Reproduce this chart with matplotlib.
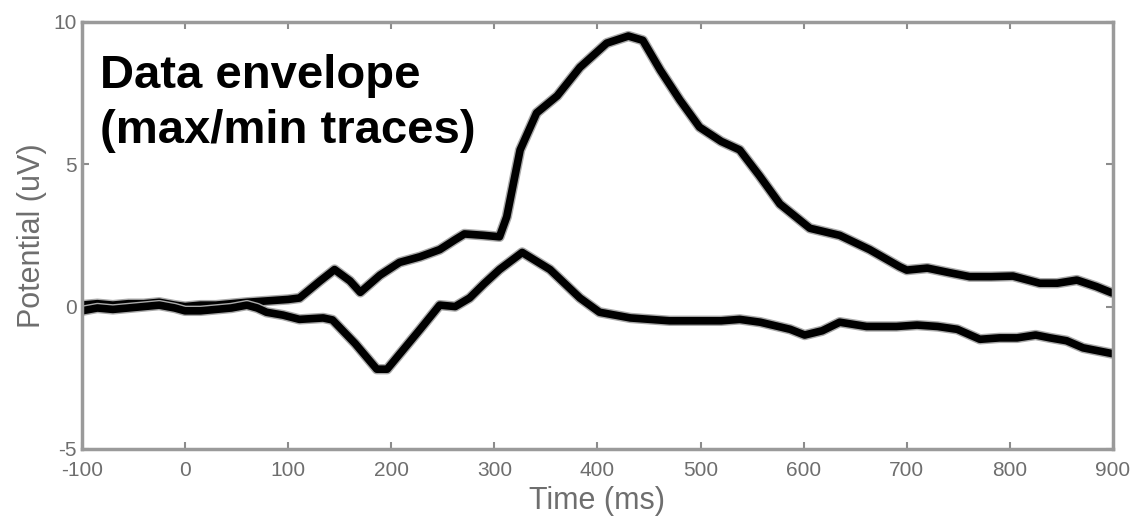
#!/usr/bin/env python3

import matplotlib
matplotlib.use("Agg")
import matplotlib.pyplot as plt
import numpy as np

# time (ms) and potential (uV)
t_max = [-100, -85, -70, -55, -40, -25, -10, 0, 15, 30, 45, 60, 80, 100, 111, 131, 145,
         160, 170, 189, 208, 228, 247, 262, 271, 290, 305, 312, 325, 341, 361, 383,
         409, 430, 444, 461, 480, 499, 520, 538, 557, 577, 606, 635, 664, 693, 700,
         720, 740, 761, 782, 803, 829, 846, 865, 884, 899]
v_max = [0.05, 0.1, 0.05, 0.1, 0.1, 0.15, 0.05, 0.0, 0.05, 0.05, 0.1, 0.15, 0.2, 0.25,
         0.3, 0.9, 1.3, 0.9, 0.5, 1.1, 1.55, 1.75, 2.0, 2.35, 2.55, 2.5, 2.45, 3.15,
         5.5, 6.8, 7.4, 8.4, 9.25, 9.5, 9.35, 8.3, 7.25, 6.3, 5.8, 5.5, 4.6, 3.6,
         2.75, 2.5, 2.0, 1.4, 1.28, 1.35, 1.2, 1.05, 1.05, 1.07, 0.82, 0.82, 0.93,
         0.7, 0.48]

t_min = [-100, -85, -70, -55, -40, -25, -10, 0, 15, 30, 45, 60, 70, 79, 95, 111, 134,
         143, 165, 186, 196, 212, 228, 247, 262, 276, 290, 305, 327, 354, 383, 402,
         432, 470, 499, 520, 538, 558, 587, 601, 618, 635, 661, 690, 710, 730, 749,
         771, 790, 807, 825, 839, 855, 871, 899]
v_min = [-0.15, -0.05, -0.1, -0.05, 0.0, 0.05, -0.05, -0.15, -0.15, -0.1, -0.05, 0.05,
         -0.05, -0.2, -0.3, -0.45, -0.4, -0.47, -1.3, -2.2, -2.2, -1.5, -0.8, 0.05,
         0.0, 0.3, 0.8, 1.3, 1.9, 1.3, 0.3, -0.2, -0.4, -0.5, -0.5, -0.5, -0.45,
         -0.55, -0.8, -1.0, -0.85, -0.55, -0.7, -0.7, -0.65, -0.7, -0.8, -1.15,
         -1.1, -1.1, -1.0, -1.1, -1.2, -1.45, -1.65]

x_ticks = list(range(-100, 901, 100))
y_ticks = [-5, 0, 5, 10]

plt.rcParams['font.family'] = ['Liberation Sans', 'DejaVu Sans']
plt.rcParams['axes.unicode_minus'] = False

gray = "#8c8c8c"
text_gray = "#6e6e6e"

fig = plt.figure(figsize=(11.38, 5.19), dpi=100)
ax = fig.add_axes([0.072, 0.135, 0.906, 0.823])

for t, v in [(t_max, v_max), (t_min, v_min)]:
    ax.plot(t, v, color="#aaaaaa", linewidth=7.5, solid_joinstyle="round",
            solid_capstyle="round")
    ax.plot(t, v, color="black", linewidth=5.5, solid_joinstyle="round",
            solid_capstyle="round")

ax.set_xlim(-100, 900)
ax.set_ylim(-5, 10)
ax.set_xticks(x_ticks)
ax.set_yticks(y_ticks)
ax.tick_params(direction="in", length=5, width=1.5, color=gray, labelcolor=text_gray,
               labelsize=15, top=True, right=True)
ax.tick_params(axis="x", pad=9)
ax.tick_params(axis="y", pad=4)
for s in ax.spines.values():
    s.set_color("#9a9a9a")
    s.set_linewidth(2.5)

ax.set_xlabel("Time (ms)", fontsize=22, color=text_gray, labelpad=4)
ax.set_ylabel("Potential (uV)", fontsize=22, color=text_gray, labelpad=4)

ax.text(0.0175, 0.845, "Data envelope", transform=ax.transAxes,
        fontsize=34, fontweight="bold", va="baseline")
ax.text(0.0175, 0.717, "(max/min traces)", transform=ax.transAxes,
        fontsize=34, fontweight="bold", va="baseline")

plt.savefig("out.png", dpi=100)
